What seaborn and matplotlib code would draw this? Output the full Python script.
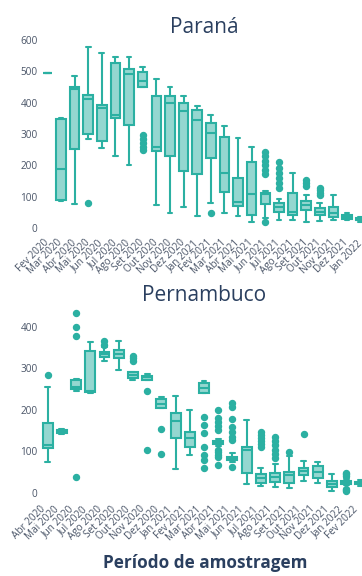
import pandas as pd
import matplotlib
matplotlib.use("Agg")
import matplotlib.pyplot as plt
import matplotlib.transforms as mtransforms
import seaborn as sns

# meses de cada estado
meses_pr = ["Fev 2020", "Mar 2020", "Abr 2020", "Mai 2020", "Jun 2020", "Jul 2020",
            "Ago 2020", "Set 2020", "Out 2020", "Nov 2020", "Dez 2020", "Jan 2021",
            "Fev 2021", "Mar 2021", "Abr 2021", "Mai 2021", "Jun 2021", "Jul 2021",
            "Ago 2021", "Set 2021", "Out 2021", "Nov 2021", "Dez 2021", "Jan 2022"]

meses_pe = ["Abr 2020", "Mai 2020", "Jun 2020", "Jul 2020", "Ago 2020", "Set 2020",
            "Out 2020", "Nov 2020", "Dez 2020", "Jan 2021", "Fev 2021", "Mar 2021",
            "Abr 2021", "Mai 2021", "Jun 2021", "Jul 2021", "Ago 2021", "Set 2021",
            "Out 2021", "Nov 2021", "Dez 2021", "Jan 2022", "Fev 2022"]

# amostras (uma lista por mes)
valores_pr = [
    [495, 495, 495],
    [85, 90, 187, 347, 350],
    [77, 251, 445, 450, 485],
    [81, 283, 300, 350, 411, 418, 424, 500, 579],
    [254, 279, 384, 393, 560],
    [230, 350, 361, 526, 547],
    [201, 329, 490, 506, 545],
    [248, 260, 272, 285, 297, 449, 452, 458, 462, 466, 470, 475, 480, 486, 492,
     497, 500, 503, 506, 510, 513],
    [73, 247, 259, 422, 475],
    [47, 231, 398, 422, 451],
    [68, 183, 373, 398, 422],
    [39, 172, 345, 377, 389],
    [49, 79, 222, 260, 304, 320, 336, 350, 361],
    [49, 114, 175, 291, 326],
    [38, 70, 84, 161, 286],
    [20, 41, 107, 212, 257],
    [20, 31, 40, 50, 58, 66, 72, 77, 82, 88, 94, 99, 103, 106, 108, 109, 110, 110,
     111, 112, 112, 113, 118, 172, 186, 200, 214, 229, 244],
    [25, 30, 35, 39, 43, 47, 50, 52, 54, 57, 59, 62, 64, 66, 68, 70, 72, 74, 76, 78,
     80, 81, 94, 127, 143, 160, 176, 193, 210],
    [25, 41, 52, 113, 177],
    [20, 35, 45, 52, 57, 62, 66, 70, 73, 77, 81, 84, 87, 105, 135, 144, 153],
    [23, 28, 32, 36, 39, 41, 44, 46, 49, 51, 52, 55, 57, 60, 62, 63, 81, 105, 112,
     120, 127],
    [25, 34, 49, 66, 105],
    [25, 28, 36, 41, 49],
    [20, 24, 28, 31, 35],
]

valores_pe = [
    [75, 90, 108, 112, 115, 140, 167, 254, 284],
    [142, 144, 148, 152, 153],
    [38, 246, 248, 249, 250, 252, 253, 254, 255, 260, 265, 269, 272, 274, 378, 400, 432],
    [241, 243, 246, 342, 364],
    [318, 321, 325, 328, 331, 333, 334, 336, 337, 338, 350, 357, 365],
    [296, 324, 334, 344, 366],
    [272, 274, 275, 276, 279, 282, 284, 287, 290, 292, 318, 324, 330],
    [103, 246, 272, 275, 278, 279, 281, 284, 286],
    [93, 153, 203, 208, 214, 220, 227, 229, 231],
    [56, 131, 173, 191, 233],
    [91, 111, 133, 147, 199],
    [59, 78, 92, 110, 143, 163, 182, 240, 242, 244, 246, 248, 250, 251, 252, 254,
     256, 258, 260, 262, 263, 264, 265, 266, 266, 267, 267, 268, 268],
    [67, 86, 92, 98, 104, 112, 118, 119, 119, 120, 121, 121, 122, 123, 123, 124,
     124, 125, 125, 129, 151, 160, 170, 180, 199],
    [63, 74, 75, 76, 77, 77, 78, 78, 79, 79, 80, 80, 81, 81, 81, 82, 82, 83, 83, 84,
     85, 85, 86, 86, 87, 95, 127, 135, 146, 158, 178, 207, 217],
    [21, 47, 103, 111, 175],
    [16, 17, 18, 20, 21, 22, 23, 24, 26, 28, 30, 31, 33, 34, 35, 37, 38, 40, 41, 43,
     44, 45, 60, 111, 118, 125, 132, 140, 147],
    [14, 16, 18, 20, 22, 24, 25, 26, 28, 30, 32, 34, 35, 37, 38, 40, 41, 43, 44, 46,
     47, 48, 68, 83, 93, 104, 114, 124, 135],
    [12, 18, 24, 35, 43, 47, 51, 88, 99],
    [27, 35, 43, 49, 53, 57, 60, 77, 141],
    [24, 35, 51, 65, 75],
    [5, 14, 22, 29, 45],
    [3, 7, 10, 18, 22, 23, 24, 24, 25, 26, 27, 27, 28, 32, 40, 44, 47],
    [16, 20, 23, 26, 30],
]


def tabela(meses, valores):
    linhas = [(m, v) for m, vs in zip(meses, valores) for v in vs]
    return pd.DataFrame(linhas, columns=["mes", "valor"])


df_pr = tabela(meses_pr, valores_pr)
df_pe = tabela(meses_pe, valores_pe)

sns.set_style("white")
plt.rcParams["font.family"] = ["Open Sans", "DejaVu Sans"]

verde = "#2bb0a2"
preenchimento = (0.169, 0.690, 0.635, 0.5)
texto = "#2a3f5f"
cinza = "#4a5568"

W, H = 362, 576
fig = plt.figure(figsize=(W / 100, H / 100), dpi=100)


def eixo(esq, topo, dir, base):
    return fig.add_axes([esq / W, 1 - base / H, (dir - esq) / W, (base - topo) / H])


ax1 = eixo(40.5, 35.3, 367.5, 232.7)
ax2 = eixo(40.5, 303.9, 367.5, 501.0)

# (eixo, dados, meses, limites y, ticks y, deslocamento dos rotulos x em px)
for ax, df, meses, ylim, yticks, desl in [
    (ax1, df_pr, meses_pr, (-15, 615), range(0, 601, 100), (-4, -2)),
    (ax2, df_pe, meses_pe, (-20, 455), range(0, 401, 100), (-8, 0)),
]:
    sns.boxplot(data=df, x="mes", y="valor", order=meses, ax=ax,
                color=verde, linecolor=verde, linewidth=1.5, width=0.7,
                fliersize=4.3,
                flierprops=dict(marker="o", markerfacecolor=verde,
                                markeredgecolor=verde))
    for p in ax.patches:
        p.set_facecolor(preenchimento)
    ax.set_xlim(-0.5, len(meses) - 0.5)
    ax.set_ylim(*ylim)
    ax.set_yticks(list(yticks))
    ax.set_xlabel("")
    ax.set_ylabel("")
    ax.tick_params(axis="both", length=0, labelsize=7.2, labelcolor=cinza, pad=2)
    offset = mtransforms.ScaledTranslation(desl[0] / 100, desl[1] / 100,
                                           fig.dpi_scale_trans)
    for lbl in ax.get_xticklabels():
        lbl.set_rotation(45)
        lbl.set_ha("right")
        lbl.set_va("top")
        lbl.set_rotation_mode("anchor")
        lbl.set_transform(lbl.get_transform() + offset)
    sns.despine(ax=ax, left=True, bottom=True)

fig.text(204 / W, 1 - 33 / H, "Paraná", ha="center", va="baseline",
         fontsize=15, color=texto)
fig.text(204 / W, 1 - 301 / H, "Pernambuco", ha="center", va="baseline",
         fontsize=15, color=texto)
fig.text(205 / W, 1 - 563 / H, "Período de amostragem", ha="center", va="center",
         fontsize=12.3, fontweight="bold", color=texto)

fig.savefig("out.png", dpi=100)
